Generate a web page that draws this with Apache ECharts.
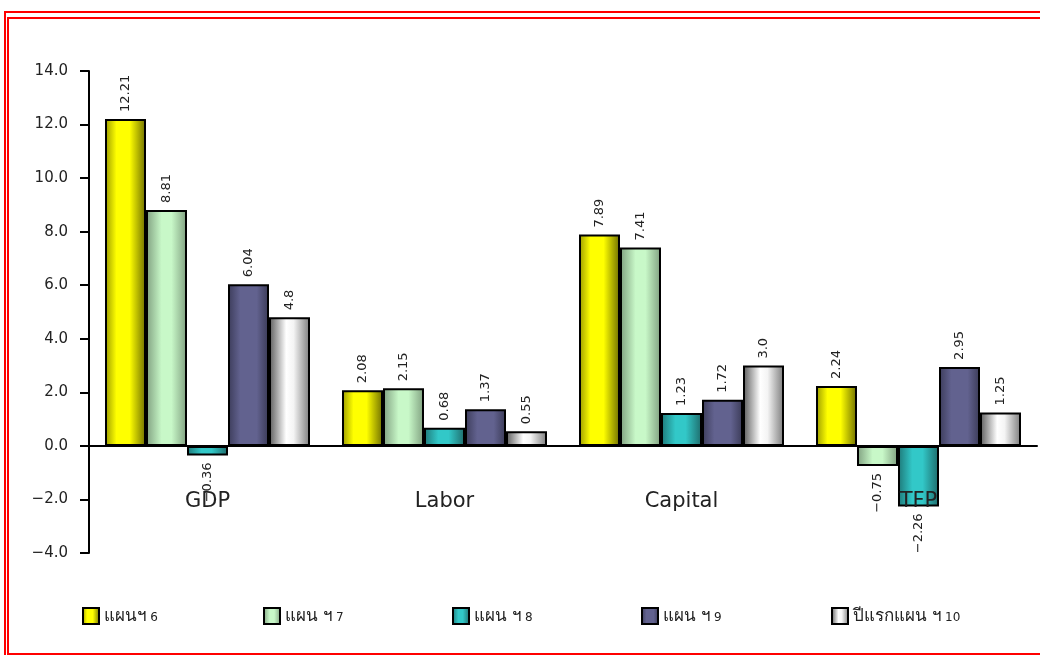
<!DOCTYPE html>
<html>
<head>
<meta charset="utf-8">
<script src="https://cdn.jsdelivr.net/npm/echarts@6/dist/echarts.min.js"></script>
<style>
	html, body { margin: 0; padding: 0; background: #fff; }
	#main { width: 1040px; height: 655px; }
</style>
</head>
<body>
<div id="main"></div>
<script>
// data
var categories = ['GDP', 'Labor', 'Capital', 'TFP'];
var seriesNames = ['แผนฯ 6', 'แผน ฯ 7', 'แผน ฯ 8', 'แผน ฯ 9', 'ปีแรกแผน ฯ 10'];
var plan6 = ['12.21', '2.08', '7.89', '2.24'];
var plan7 = ['8.81', '2.15', '7.41', '-0.75'];
var plan8 = ['-0.36', '0.68', '1.23', '-2.26'];
var plan9 = ['6.04', '1.37', '1.72', '2.95'];
var plan10 = ['4.8', '0.55', '3.0', '1.25'];
var yTicks = { min: -4, max: 14, step: 2 };

var allData = [plan6, plan7, plan8, plan9, plan10];

// horizontal shading of each bar
var stops = [
	[['#9a9a00', 0], ['#ffff00', 0.28], ['#ffff00', 0.6], ['#6e6e00', 1]],
	[['#7f9f7f', 0], ['#c8f8c8', 0.38], ['#c8f8c8', 0.62], ['#7f9f7f', 1]],
	[['#1e7878', 0], ['#32c8c8', 0.35], ['#32c8c8', 0.6], ['#1e6a6a', 1]],
	[['#3c3c5a', 0], ['#62628f', 0.3], ['#62628f', 0.7], ['#3a3a56', 1]],
	[['#5a5a5a', 0], ['#ffffff', 0.42], ['#f4f4f4', 0.6], ['#7a7a7a', 1]]
];
function grad(s) {
	return new echarts.graphic.LinearGradient(0, 0, 1, 0, s.map(function(c) {
		return { offset: c[1], color: c[0] };
	}));
}
function minus(s) {
	return String(s).replace('-', '\u2212');
}

var legendLeft = [77, 258, 447, 636, 826];

var series = allData.map(function(arr, k) {
	return {
		name: seriesNames[k],
		type: 'bar',
		barGap: '0%',
		barCategoryGap: '13.5%',
		itemStyle: {
			color: grad(stops[k]),
			borderColor: '#000',
			borderWidth: 2
		},
		label: {
			show: true,
			rotate: 90,
			distance: 7,
			verticalAlign: 'middle',
			color: '#222',
			fontFamily: 'DejaVu Sans',
			fontSize: 13,
			formatter: function(p) {
				return minus(arr[p.dataIndex]);
			}
		},
		data: arr.map(function(v) {
			var n = Number(v);
			return {
				value: n,
				label: n < 0 ? { position: 'bottom', align: 'right' } : { position: 'top', align: 'left' }
			};
		})
	};
});

var myChart = echarts.init(document.getElementById('main'));
var option = {
	animation: false,
	backgroundColor: '#fff',
	grid: {
		left: 89,
		right: 3,
		top: 71,
		bottom: 102
	},
	legend: seriesNames.map(function(n, i) {
		return {
			data: [{ name: n, icon: 'rect' }],
			left: legendLeft[i],
			top: 602,
			itemWidth: 16,
			itemHeight: 16,
			itemGap: 0,
			selectedMode: false,
			itemStyle: { borderColor: '#000', borderWidth: 2 },
			textStyle: {
				color: '#222',
				rich: {
					t: { fontSize: 17, color: '#222' },
					n: { fontSize: 12, color: '#222', fontFamily: 'DejaVu Sans', padding: [4, 0, 0, 0] }
				}
			},
			formatter: function(name) {
				var m = name.match(/^(.*?)\s*(\d+)$/);
				return '{t|' + m[1] + '} {n|' + m[2] + '}';
			}
		};
	}),
	xAxis: {
		type: 'category',
		data: categories,
		z: 3,
		axisLine: { lineStyle: { color: '#000', width: 2 } },
		axisTick: { interval: 0, length: 7, lineStyle: { color: '#000', width: 2 } },
		axisLabel: {
			margin: -62,
			color: '#222',
			fontFamily: 'DejaVu Sans',
			fontSize: 21
		},
		splitLine: { show: false }
	},
	yAxis: {
		type: 'value',
		min: yTicks.min,
		max: yTicks.max,
		interval: yTicks.step,
		axisLine: { show: true, lineStyle: { color: '#000', width: 2 } },
		axisTick: { show: true, length: 9, lineStyle: { color: '#000', width: 2 } },
		axisLabel: {
			margin: 21,
			color: '#222',
			fontFamily: 'DejaVu Sans',
			fontSize: 15,
			formatter: function(v) {
				return minus(v.toFixed(1));
			}
		},
		splitLine: { show: false }
	},
	// double red frame
	graphic: [{
		type: 'rect',
		silent: true,
		shape: { x: 5, y: 12, width: 1100, height: 700 },
		style: { fill: null, stroke: '#ff0000', lineWidth: 2 }
	}, {
		type: 'rect',
		silent: true,
		shape: { x: 8, y: 18, width: 1100, height: 636 },
		style: { fill: null, stroke: '#ff0000', lineWidth: 2 }
	}],
	series: series
};
myChart.setOption(option);
</script>
</body>
</html>
